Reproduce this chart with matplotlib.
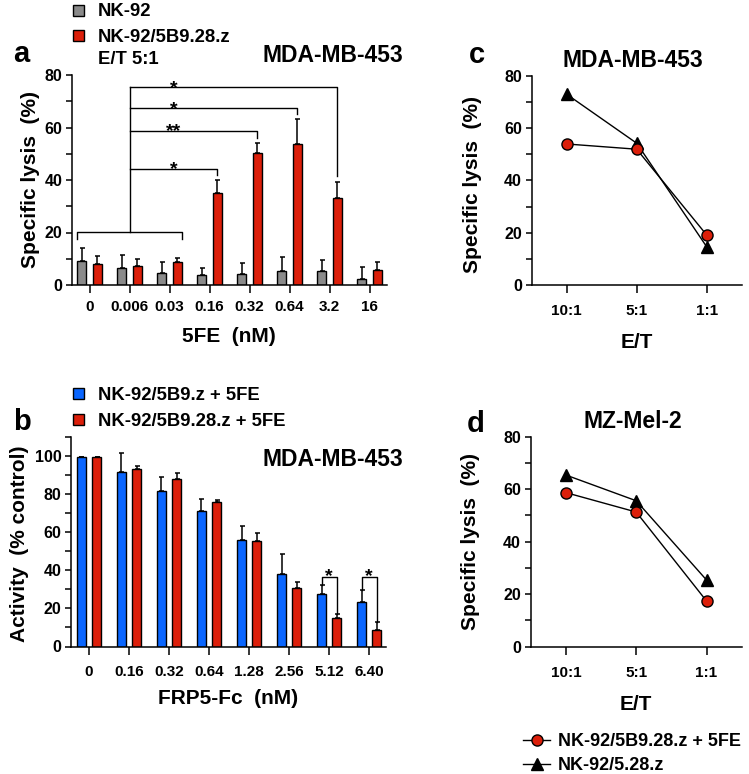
import numpy as np
import matplotlib
matplotlib.use('Agg')
import matplotlib.pyplot as plt
from matplotlib.patches import Rectangle
from matplotlib.lines import Line2D
from matplotlib.ticker import MultipleLocator

# ---- panel a : specific lysis (%) vs 5FE, E/T 5:1, MDA-MB-453 ----
conc_5fe = ['0', '0.006', '0.03', '0.16', '0.32', '0.64', '3.2', '16']
lysis_nk92 = [9.3, 6.5, 4.6, 3.7, 4.1, 5.3, 5.3, 2.3]
sd_nk92 = [4.9, 4.8, 4.3, 2.8, 4.3, 5.4, 4.4, 4.6]
lysis_28z = [8.0, 7.4, 8.8, 35.2, 50.2, 53.7, 33.0, 5.6]
sd_28z = [3.2, 2.6, 1.6, 4.8, 3.8, 9.5, 6.4, 3.1]
sig_a = [(3, '*'), (4, '**'), (5, '*'), (6, '*')]   # vs pooled 0 - 0.03 nM

# ---- panel b : activity (% control) vs FRP5-Fc ----
conc_frp5 = ['0', '0.16', '0.32', '0.64', '1.28', '2.56', '5.12', '6.40']
act_z = [99.5, 91.7, 81.4, 71.1, 55.8, 37.9, 27.4, 23.2]
sd_z = [0, 9.5, 7.5, 6.1, 7.6, 10.8, 4.7, 6.3]
act_28z = [99.5, 93.2, 87.8, 76.0, 55.4, 30.7, 14.9, 8.8]
sd_28z_b = [0, 1.3, 3.2, 1.0, 4.0, 3.2, 2.2, 4.1]
sig_b = [6, 7]

# ---- panels c, d : specific lysis vs E/T ----
et_ratio = ['10:1', '5:1', '1:1']
c_28z_5fe = [53.9, 51.9, 19.1]
c_528z = [72.9, 54.2, 14.6]
d_28z_5fe = [58.7, 51.3, 17.4]
d_528z = [65.4, 55.6, 25.4]

GRAY = '#8a8a8a'
RED = '#dc1f0a'
BLUE = '#0a66ff'

plt.rcParams['font.family'] = ['Liberation Sans', 'DejaVu Sans']
plt.rcParams['font.weight'] = 'bold'

W, H = 749, 774
fig = plt.figure(figsize=(W / 100, H / 100), dpi=100)


def add_ax(x0, y0, x1, y1):
    # pixel box (left, top, right, bottom) -> figure axes
    return fig.add_axes([x0 / W, 1 - y1 / H, (x1 - x0) / W, (y1 - y0) / H])


def ftext(px, py, s, **kw):
    fig.text(px / W, 1 - py / H, s, **kw)


def style(ax, ymax, xpad, xlen):
    for s in ['top', 'right']:
        ax.spines[s].set_visible(False)
    for s in ['left', 'bottom']:
        ax.spines[s].set_linewidth(1.1)
    ax.set_ylim(0, ymax)
    ax.yaxis.set_major_locator(MultipleLocator(20))
    ax.yaxis.set_minor_locator(MultipleLocator(10))
    ax.tick_params(axis='y', which='both', length=4, width=1.1, labelsize=11.5, pad=3)
    ax.tick_params(axis='x', length=xlen, width=1.1, labelsize=11, pad=xpad)


err_kw = dict(ecolor='black', elinewidth=1.1, capsize=1.8, capthick=1.1)
x = np.arange(8)
off, bw = 0.19, 0.225

# ---------------- a ----------------
ax = add_ax(72.3, 75, 387, 285)
ax.bar(x - off, lysis_nk92, bw, color=GRAY, edgecolor='black', linewidth=1,
       yerr=[np.zeros(8), sd_nk92], error_kw=err_kw)
ax.bar(x + off, lysis_28z, bw, color=RED, edgecolor='black', linewidth=1,
       yerr=[np.zeros(8), sd_28z], error_kw=err_kw)
style(ax, 80, 5, 5.5)
ax.set_xlim(-0.43, 7.435)
ax.set_xticks(x)
ax.set_xticklabels(conc_5fe)

ax.plot([-0.31, -0.31, 2.30, 2.30], [17.4, 20.1, 20.1, 17.4], 'k-', lw=1)
ax.plot([1, 1], [20.1, 75.3], 'k-', lw=1)
for (g, lab), h in zip(sig_a, [44.2, 58.8, 67.3, 75.3]):
    xr = g + off
    ax.plot([1, xr, xr], [h, h, lysis_28z[g] + sd_28z[g] + 2], 'k-', lw=1)
    ax.annotate(lab, (2.1, h), xytext=(0, -4), textcoords='offset points',
                ha='center', va='baseline', fontsize=14)

# ---------------- b ----------------
ax = add_ax(71, 436.7, 386, 646.5)
ax.bar(x - off, act_z, bw, color=BLUE, edgecolor='black', linewidth=1,
       yerr=[np.zeros(8), sd_z], error_kw=err_kw)
ax.bar(x + off, act_28z, bw, color=RED, edgecolor='black', linewidth=1,
       yerr=[np.zeros(8), sd_28z_b], error_kw=err_kw)
style(ax, 110, 7.5, 5.5)
ax.set_yticks([0, 20, 40, 60, 80, 100])
ax.set_xlim(-0.45, 7.42)
ax.set_xticks(x)
ax.set_xticklabels(conc_frp5)
for g in sig_b:
    xl, xr = g - off, g + off
    h = 36.4
    ax.plot([xl, xl, xr, xr], [act_z[g] + sd_z[g], h, h, act_28z[g] + sd_28z_b[g]], 'k-', lw=1)
    ax.annotate('*', (g, h), xytext=(0, -3), textcoords='offset points',
                ha='center', va='baseline', fontsize=14)

# ---------------- c, d ----------------
for box, circ, tri in [((531.7, 75.7, 741.7, 285), c_28z_5fe, c_528z),
                       ((530.7, 436.7, 741.7, 646.7), d_28z_5fe, d_528z)]:
    ax = add_ax(*box)
    xe = np.arange(3)
    ax.plot(xe, tri, '-', color='black', lw=1, marker='^', ms=8.5, mfc='black', mec='black')
    ax.plot(xe, circ, '-', color='black', lw=1, marker='o', ms=8, mfc=RED, mec='black', mew=1)
    style(ax, 80, 8, 5.8)
    ax.set_xlim(-0.5, 2.5)
    ax.set_xticks(xe)
    ax.set_xticklabels(et_ratio)

# ---------------- texts ----------------
lab = dict(ha='center', va='center', fontsize=15)
ftext(31, 179, 'Specific lysis  (%)', rotation=90, **lab)
ftext(20, 544, 'Activity  (% control)', rotation=90, **lab)
ftext(472, 184.5, 'Specific lysis  (%)', rotation=90, **lab)
ftext(471, 541, 'Specific lysis  (%)', rotation=90, **lab)
ftext(229, 337, '5FE  (nM)', **lab)
ftext(228, 699, 'FRP5-Fc  (nM)', **lab)
ftext(636.7, 342, 'E/T', **lab)
ftext(635.7, 704, 'E/T', **lab)

tit = dict(va='baseline', fontsize=16.5)
ftext(403, 62, 'MDA-MB-453', ha='right', **tit)
ftext(403, 466, 'MDA-MB-453', ha='right', **tit)
ftext(633, 67, 'MDA-MB-453', ha='center', **tit)
ftext(633, 428, 'MZ-Mel-2', ha='center', **tit)

letter = dict(va='baseline', ha='left', fontsize=21)
ftext(13, 61.7, 'a', **letter)
ftext(13, 430, 'b', **letter)
ftext(469, 63, 'c', **letter)
ftext(467, 431.7, 'd', **letter)


def square_entry(cy, color, text):
    fig.add_artist(Rectangle((72.7 / W, 1 - (cy + 5.5) / H), 11 / W, 11 / H,
                             transform=fig.transFigure, facecolor=color,
                             edgecolor='black', linewidth=1))
    ftext(98, cy, text, ha='left', va='center_baseline', fontsize=13.3)


square_entry(10, GRAY, 'NK-92')
square_entry(35, RED, 'NK-92/5B9.28.z')
ftext(98, 57.5, 'E/T 5:1', ha='left', va='center_baseline', fontsize=13.3)
square_entry(393.5, BLUE, 'NK-92/5B9.z + 5FE')
square_entry(419, RED, 'NK-92/5B9.28.z + 5FE')


def line_entry(cy, marker, mfc, ms, text):
    y = 1 - cy / H
    fig.add_artist(Line2D([523 / W, 550 / W], [y, y], transform=fig.transFigure,
                          color='black', lw=1))
    fig.add_artist(Line2D([536.5 / W], [y], transform=fig.transFigure, marker=marker,
                          ms=ms, mfc=mfc, mec='black', mew=1))
    ftext(558, cy, text, ha='left', va='center_baseline', fontsize=13)


line_entry(740, 'o', RED, 8, 'NK-92/5B9.28.z + 5FE')
line_entry(764, '^', 'black', 8.5, 'NK-92/5.28.z')

fig.savefig('out.png', dpi=100)
